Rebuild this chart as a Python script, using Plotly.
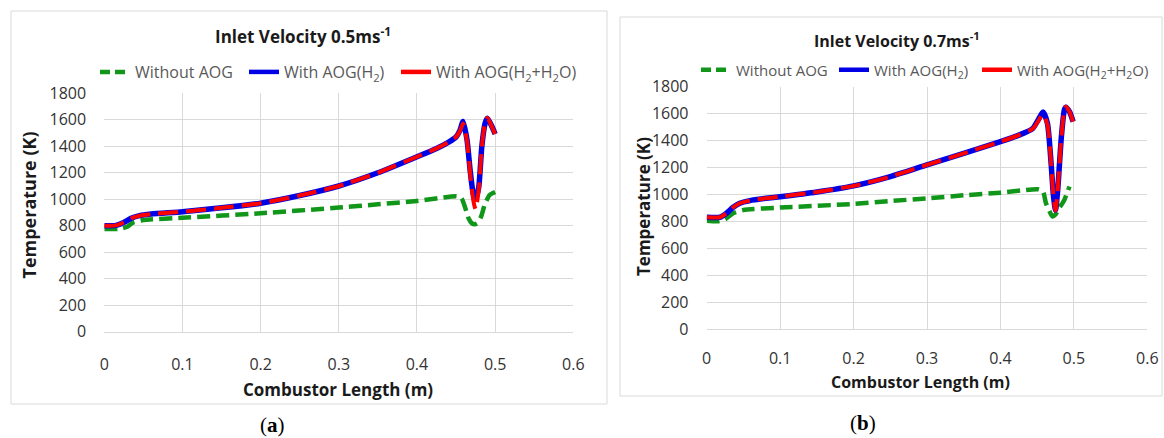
import plotly.graph_objects as go

# ---------------- data ----------------
# Panel (a): inlet velocity 0.5 m/s
xa_aog = [0, 0.015, 0.025, 0.035, 0.045, 0.06, 0.1, 0.15, 0.2, 0.25, 0.3, 0.35, 0.4, 0.425, 0.44, 0.45,
          0.455, 0.459, 0.464, 0.468, 0.472, 0.475, 0.479, 0.483, 0.487, 0.49, 0.495, 0.5]
blue_a = [800, 803, 825, 858, 876, 888, 906, 935, 970, 1028, 1100, 1200, 1321, 1384, 1430, 1470,
          1520, 1588, 1450, 1220, 1040, 1000, 1090, 1400, 1570, 1612, 1560, 1493]
red_a = [800, 803, 825, 858, 876, 888, 906, 935, 970, 1028, 1100, 1200, 1321, 1384, 1430, 1470,
         1515, 1572, 1440, 1196, 994, 925, 1070, 1397, 1575, 1616, 1560, 1493]
xa_no = [0, 0.02, 0.03, 0.037, 0.05, 0.1, 0.2, 0.3, 0.35, 0.4, 0.451, 0.457, 0.462, 0.466, 0.47,
         0.474, 0.477, 0.482, 0.487, 0.493, 0.5]
green_a = [775, 777, 795, 825, 843, 860, 894, 937, 962, 987, 1022, 1007, 931, 856, 820,
           812, 818, 868, 965, 1032, 1055]

# Panel (b): inlet velocity 0.7 m/s
xb_aog = [0, 0.018, 0.027, 0.036, 0.045, 0.059, 0.081, 0.1, 0.15, 0.2, 0.25, 0.3, 0.35, 0.4, 0.426,
          0.444, 0.451, 0.458, 0.464, 0.469, 0.472, 0.475, 0.478, 0.483, 0.487, 0.489, 0.494, 0.499]
blue_b = [830, 830, 860, 904, 934, 954, 971, 983, 1018, 1063, 1132, 1219, 1305, 1392, 1442,
          1490, 1550, 1612, 1528, 1231, 1000, 884, 1033, 1429, 1627, 1648, 1615, 1541]
red_b = [830, 830, 860, 904, 934, 954, 971, 983, 1018, 1063, 1132, 1219, 1305, 1392, 1442,
         1488, 1540, 1595, 1520, 1231, 1000, 880, 1033, 1429, 1627, 1652, 1615, 1541]
xb_no = [0, 0.015, 0.025, 0.036, 0.05, 0.1, 0.2, 0.25, 0.3, 0.35, 0.4, 0.451, 0.458, 0.462, 0.467,
         0.471, 0.475, 0.48, 0.487, 0.494]
green_b = [805, 800, 815, 860, 884, 902, 929, 950, 971, 993, 1013, 1038, 1021, 934, 872,
           835, 850, 897, 959, 1058]

series_names = ["Without AOG", "With AOG(H<sub>2</sub>)", "With AOG(H<sub>2</sub>+H<sub>2</sub>O)"]
titles = ["Inlet Velocity 0.5ms<sup>-1</sup>", "Inlet Velocity 0.7ms<sup>-1</sup>"]
x_ticks = [0, 0.1, 0.2, 0.3, 0.4, 0.5, 0.6]
x_ticktext = ["0", "0.1", "0.2", "0.3", "0.4", "0.5", "0.6"]
y_ticks = [0, 200, 400, 600, 800, 1000, 1200, 1400, 1600, 1800]

GREEN = "#109618"
BLUE = "#0000e6"
RED = "#ff0000"
FONT = "Open Sans"

W, H = 1164, 438

def px(x):
    return x / W

def py(y):
    return 1 - y / H

fig = go.Figure()

panels = [
    dict(xa=xa_aog, blue=blue_a, red=red_a, xn=xa_no, green=green_a, ax="x", ay="y",
         legs=["legend", "legend2", "legend3"]),
    dict(xa=xb_aog, blue=blue_b, red=red_b, xn=xb_no, green=green_b, ax="x2", ay="y2",
         legs=["legend4", "legend5", "legend6"]),
]

for p in panels:
    fig.add_trace(go.Scatter(x=p["xn"], y=p["green"], mode="lines", xaxis=p["ax"], yaxis=p["ay"],
                             line=dict(color=GREEN, width=4.5, dash="13px,6px", shape="spline", smoothing=0.6),
                             showlegend=False))
    fig.add_trace(go.Scatter(x=p["xa"], y=p["blue"], mode="lines", xaxis=p["ax"], yaxis=p["ay"],
                             line=dict(color=BLUE, width=5.5, shape="spline", smoothing=0.6),
                             showlegend=False))
    fig.add_trace(go.Scatter(x=p["xa"], y=p["red"], mode="lines", xaxis=p["ax"], yaxis=p["ay"],
                             line=dict(color=RED, width=4, dash="20px,8px", shape="spline", smoothing=0.6),
                             showlegend=False))
    # legend entries
    styles = [dict(color=GREEN, width=4.5, dash="10px,5px"), dict(color=BLUE, width=4.5),
              dict(color=RED, width=4.5)]
    for name, st, lg in zip(series_names, styles, p["legs"]):
        fig.add_trace(go.Scatter(x=[None], y=[None], mode="lines", xaxis=p["ax"], yaxis=p["ay"],
                                 name=name, legend=lg, line=st))

grid = "#d9d9d9"
tick_font = dict(family=FONT, size=16, color="#333333")
common_x = dict(range=[0, 0.6], tickvals=x_ticks, ticktext=x_ticktext, showgrid=True, gridcolor=grid,
                gridwidth=1, zeroline=False, showline=True, linecolor=grid, linewidth=1,
                ticks="outside", tickcolor="rgba(0,0,0,0)", automargin=False,
                tickfont=tick_font, fixedrange=True)
common_y = dict(range=[0, 1800], tickvals=y_ticks, showgrid=True, gridcolor=grid, gridwidth=1,
                zeroline=False, showline=False, ticks="outside", ticklen=14, tickcolor="rgba(0,0,0,0)",
                automargin=False, tickfont=tick_font, fixedrange=True)

legend_layout = {}
leg_pos = [("legend", 95, 72, 16), ("legend2", 244, 72, 16), ("legend3", 396, 72, 16),
           ("legend4", 696, 70, 15), ("legend5", 834, 70, 15), ("legend6", 977, 70, 15)]
for key, lx, ly, fs in leg_pos:
    legend_layout[key] = dict(orientation="h", x=px(lx), y=py(ly), xanchor="left", yanchor="middle",
                              font=dict(family=FONT, size=fs, color="#595959"), bgcolor="rgba(0,0,0,0)")

fig.update_layout(
    template="none",
    width=W, height=H, autosize=False,
    margin=dict(l=0, r=0, t=0, b=0, pad=0),
    paper_bgcolor="white", plot_bgcolor="white",
    xaxis=dict(domain=[px(104.3), px(573.3)], anchor="y", ticklen=18, **common_x),
    yaxis=dict(domain=[py(331.7), py(93.3)], anchor="x", **common_y),
    xaxis2=dict(domain=[px(706.7), px(1147.3)], anchor="y2", ticklen=15, **common_x),
    yaxis2=dict(domain=[py(329), py(86.7)], anchor="x2", **common_y),
    **legend_layout,
)

# panel borders
fig.add_shape(type="rect", xref="paper", yref="paper", x0=px(11), x1=px(607), y0=py(404), y1=py(11),
              line=dict(color="#d9d9d9", width=1), layer="below")
fig.add_shape(type="rect", xref="paper", yref="paper", x0=px(620), x1=px(1162), y0=py(396), y1=py(17),
              line=dict(color="#d9d9d9", width=1), layer="below")

annots = [
    dict(text="<b>" + titles[0] + "</b>", x=px(303), y=py(35), size=17),
    dict(text="<b>" + titles[1] + "</b>", x=px(897), y=py(40), size=16),
    dict(text="<b>Combustor Length (m)</b>", x=px(338), y=py(389), size=17),
    dict(text="<b>Combustor Length (m)</b>", x=px(920), y=py(382), size=16),
]
for a in annots:
    fig.add_annotation(text=a["text"], x=a["x"], y=a["y"], xref="paper", yref="paper",
                       xanchor="center", yanchor="middle", showarrow=False,
                       font=dict(family=FONT, size=a["size"], color="#1a1a1a"))
for xx, yy, s in [(28.5, 205, 18), (643, 207, 17)]:
    fig.add_annotation(text="<b>Temperature (K)</b>", x=px(xx), y=py(yy), xref="paper", yref="paper",
                       xanchor="center", yanchor="middle", showarrow=False, textangle=-90,
                       font=dict(family=FONT, size=s, color="#1a1a1a"))
for txt, xx, yy in [("(<b>a</b>)", 272, 425), ("(<b>b</b>)", 863, 423)]:
    fig.add_annotation(text=txt, x=px(xx), y=py(yy), xref="paper", yref="paper",
                       xanchor="center", yanchor="middle", showarrow=False,
                       font=dict(family="Liberation Serif", size=21, color="black"))

fig.write_html("out.html")
